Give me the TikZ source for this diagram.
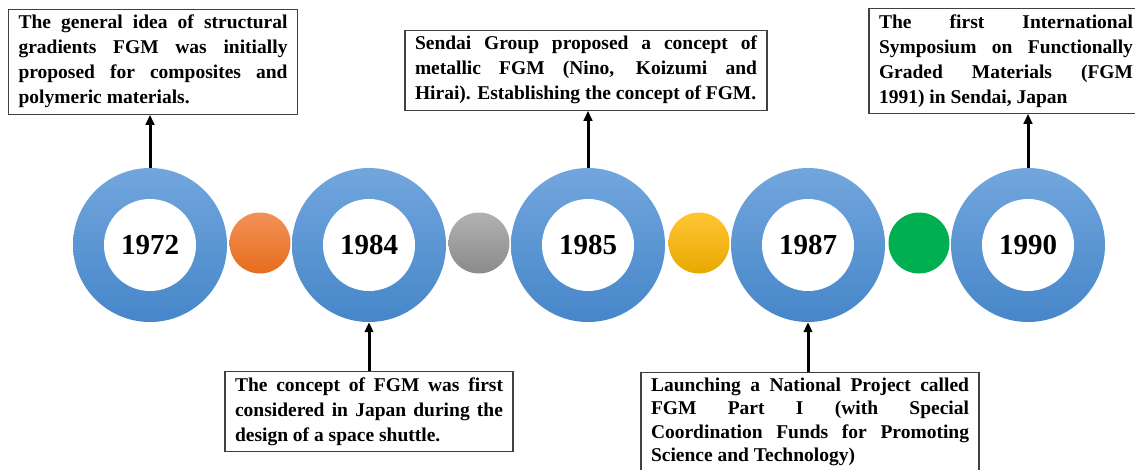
\documentclass[tikz,border=0pt]{standalone}
\usepackage{fontspec}
\setmainfont{Liberation Serif}
\usetikzlibrary{positioning, arrows.meta}
\definecolor{ringtop}{RGB}{114,166,221}
\definecolor{ringbot}{RGB}{70,134,201}
\definecolor{orangetop}{RGB}{242,146,88}
\definecolor{orangebot}{RGB}{230,108,28}
\definecolor{graytop}{RGB}{178,178,178}
\definecolor{graybot}{RGB}{138,138,138}
\definecolor{yellowtop}{RGB}{255,198,52}
\definecolor{yellowbot}{RGB}{232,168,0}
\definecolor{greendot}{RGB}{0,176,80}
\hyphenpenalty=10000
\exhyphenpenalty=10000

\tikzset{
	ring/.style={circle, minimum size=154pt, inner sep=0pt, top color=ringtop, bottom color=ringbot,
		font=\fontsize{29}{31}\selectfont\bfseries,
		path picture={\fill[white] (path picture bounding box.center) circle (46pt);}},
	dot/.style={circle, minimum size=61pt, inner sep=0pt},
	note/.style={draw=black!75, line width=1.2pt, fill=white, align=justify, inner xsep=10pt, inner ysep=6pt,
		font=\fontsize{19.5}{25}\selectfont\bfseries},
	pointer/.style={line width=3pt, -{Triangle[length=10pt,width=8.5pt]}}
}

\begin{document}
\begin{tikzpicture}[x=1pt, y=1pt]
	\useasboundingbox				(0,0) rectangle (1135,-469);
	\clip						(0,0) rectangle (1135,-469);
	% years
	\node[ring] (r1972)				at (150,-245) {1972};
	\node[ring] (r1984)				at (369,-245) {1984};
	\node[ring] (r1985)				at (588,-245) {1985};
	\node[ring] (r1987)				at (808,-245) {1987};
	\node[ring] (r1990)				at (1028,-245) {1990};
	\node[dot, top color=orangetop, bottom color=orangebot] (d1)	at (260,-243) {};
	\node[dot, top color=graytop, bottom color=graybot] (d2)	at (479,-243) {};
	\node[dot, top color=yellowtop, bottom color=yellowbot] (d3)	at (699,-243) {};
	\node[dot, fill=greendot] (d4)			at (919,-243) {};
	% notes above
	\node[note, text width=269pt, above=53pt of r1972, xshift=3pt] (n1972)
		{The general idea of structural\linebreak gradients FGM was initially\linebreak proposed for composites and\linebreak polymeric materials.};
	\node[note, text width=342pt, above=57pt of r1985, xshift=-2pt] (n1985)
		{Sendai Group proposed a concept of\linebreak metallic FGM (Nino, Koizumi and\linebreak Hirai). Establishing the concept of FGM.};
	\node[note, text width=254pt, above=54pt of r1990, xshift=-22pt] (n1990)
		{The first International\linebreak Symposium on Functionally\linebreak Graded Materials (FGM\linebreak 1991) in Sendai, Japan};
	% notes below
	\node[note, text width=268pt, below=49pt of r1984] (n1984)
		{The concept of FGM was first\linebreak considered in Japan during the\linebreak design of a space shuttle.};
	\node[note, text width=318pt, inner ysep=5pt, font=\fontsize{19.5}{23.5}\selectfont\bfseries,
		below=50pt of r1987, xshift=2pt] (n1987)
		{Launching a National Project called\linebreak FGM Part I (with Special\linebreak Coordination Funds for Promoting\linebreak Science and Technology)};
	% arrows
	\draw[pointer]					(r1972.north) -- (r1972.north |- n1972.south);
	\draw[pointer]					(r1985.north) -- (r1985.north |- n1985.south);
	\draw[pointer]					(r1990.north) -- (r1990.north |- n1990.south);
	\draw[pointer]					(n1984.north -| r1984.south) -- (r1984.south);
	\draw[pointer]					(n1987.north -| r1987.south) -- (r1987.south);
\end{tikzpicture}
\end{document}
